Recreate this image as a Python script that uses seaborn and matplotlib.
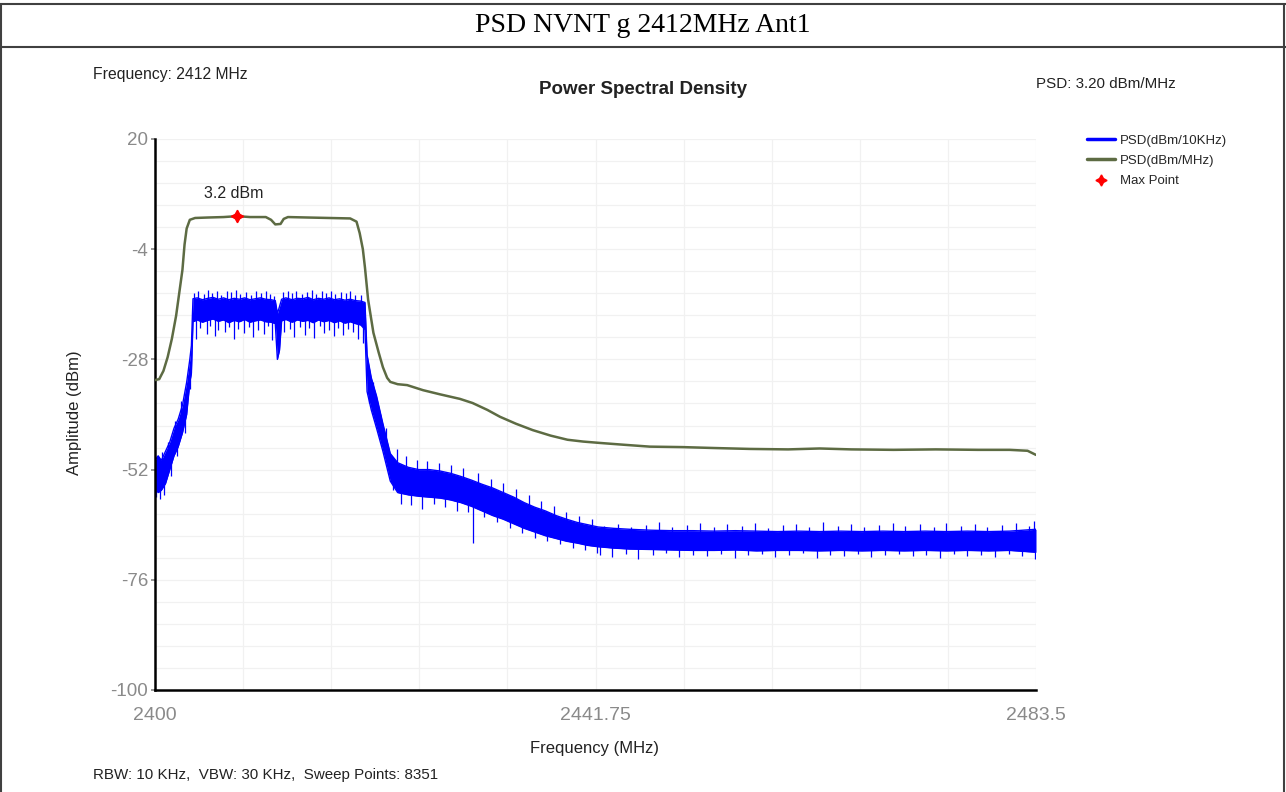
import matplotlib
matplotlib.use('Agg')
import matplotlib.pyplot as plt
from matplotlib.lines import Line2D
import seaborn as sns
import numpy as np

# PSD (dBm/MHz) trace
green_freq = [2400.0, 2400.4, 2400.8, 2401.2, 2401.6, 2402.0, 2402.3, 2402.6, 2402.8, 2403.0,
              2403.3, 2403.8, 2405.0, 2406.5, 2407.8, 2409.0, 2410.5, 2411.0, 2411.4, 2411.9,
              2412.2, 2412.6, 2414.5, 2416.5, 2418.5, 2419.1, 2419.4, 2419.7, 2419.9, 2420.2,
              2420.7, 2421.2, 2421.6, 2422.0, 2422.3, 2423.0, 2423.9, 2425.4, 2427.0, 2428.9,
              2430.1, 2431.5, 2432.7, 2434.2, 2435.8, 2437.5, 2439.1, 2440.6, 2442.2, 2444.5,
              2446.9, 2450.0, 2453.0, 2456.4, 2460.0, 2463.0, 2466.0, 2470.0, 2474.0, 2478.0,
              2481.0, 2482.7, 2483.5]
green_psd = [-32.5, -32.3, -30.5, -27.5, -23.5, -18.5, -13.5, -8.5, -3.0, 0.5,
             2.4, 2.8, 2.9, 3.0, 3.2, 3.0, 3.0, 2.4, 1.4, 1.5,
             2.6, 3.0, 2.9, 2.8, 2.7, 2.0, -0.5, -4.0, -8.0, -15.0,
             -22.2, -26.5, -29.7, -32.0, -32.9, -33.4, -33.6, -34.7, -35.6, -36.6,
             -37.5, -39.0, -40.5, -42.0, -43.4, -44.6, -45.5, -45.9, -46.2, -46.6,
             -47.0, -47.1, -47.3, -47.5, -47.6, -47.4, -47.6, -47.7, -47.6, -47.7,
             -47.7, -47.9, -48.8]

# PSD (dBm/10KHz) trace: upper and lower edge of the dense noisy band
blue_freq = [2400.0, 2400.3, 2400.6, 2401.0, 2401.4, 2401.8, 2402.2, 2402.6, 2403.0, 2403.3,
             2403.45, 2403.6, 2404.0, 2404.5, 2405.0, 2405.5, 2406.0, 2406.5, 2407.0, 2407.5,
             2408.0, 2408.5, 2409.0, 2409.5, 2410.0, 2410.5, 2411.0, 2411.4, 2411.6, 2411.8,
             2412.0, 2412.4, 2413.0, 2413.5, 2414.0, 2414.5, 2415.0, 2415.5, 2416.0, 2416.5,
             2417.0, 2417.5, 2418.0, 2418.5, 2419.0, 2419.5, 2419.9, 2420.1, 2420.5, 2421.0,
             2421.6, 2422.3, 2423.0, 2424.0, 2425.0, 2426.0, 2427.0, 2428.0, 2429.0, 2430.0,
             2431.0, 2432.0, 2433.0, 2434.0, 2435.0, 2436.0, 2437.0, 2438.0, 2439.0, 2440.0,
             2441.0, 2442.0, 2443.5, 2445.0, 2447.0, 2449.0, 2451.0, 2453.0, 2455.0, 2457.0,
             2459.0, 2461.0, 2463.0, 2465.0, 2467.0, 2469.0, 2471.0, 2473.0, 2475.0, 2477.0,
             2479.0, 2481.0, 2483.5]
blue_hi = [-50.0, -49.0, -50.0, -48.0, -46.0, -43.0, -41.0, -38.0, -33.0, -28.0,
           -25.0, -14.8, -14.6, -15.0, -14.7, -14.5, -14.9, -14.6, -15.0, -14.7,
           -14.9, -14.6, -15.0, -14.8, -14.6, -14.9, -15.0, -15.2, -18.0, -16.5,
           -14.9, -14.6, -15.0, -14.7, -14.8, -14.5, -15.0, -14.7, -14.9, -14.6,
           -15.0, -14.8, -15.1, -14.9, -15.2, -15.3, -15.6, -27.0, -32.0, -36.0,
           -42.0, -48.5, -50.5, -51.5, -52.0, -52.0, -52.3, -52.8, -53.5, -54.3,
           -55.2, -56.0, -57.0, -58.0, -59.2, -60.2, -61.0, -62.0, -62.8, -63.5,
           -64.0, -64.5, -64.8, -65.0, -65.2, -65.3, -65.3, -65.4, -65.3, -65.4,
           -65.5, -65.4, -65.5, -65.4, -65.5, -65.4, -65.5, -65.4, -65.5, -65.4,
           -65.5, -65.4, -65.0]
blue_lo = [-56.0, -57.0, -56.5, -55.0, -52.0, -49.0, -47.0, -44.0, -40.0, -33.0,
           -31.0, -19.8, -19.4, -19.9, -19.5, -19.2, -19.7, -19.4, -20.0, -19.5,
           -19.8, -19.3, -19.9, -19.6, -19.4, -19.8, -19.9, -20.2, -28.0, -26.0,
           -19.6, -19.3, -19.9, -19.4, -19.7, -19.5, -20.0, -19.4, -19.8, -19.5,
           -20.0, -19.6, -20.1, -19.8, -20.2, -20.5, -21.5, -35.0, -39.0, -43.0,
           -48.0, -54.5, -57.0, -57.5, -57.8, -58.0, -58.2, -58.6, -59.2, -60.0,
           -61.0, -62.0, -62.8, -63.8, -64.8, -65.6, -66.4, -67.0, -67.6, -68.0,
           -68.5, -68.8, -69.1, -69.3, -69.4, -69.5, -69.6, -69.6, -69.5, -69.7,
           -69.6, -69.6, -69.7, -69.6, -69.7, -69.6, -69.7, -69.6, -69.7, -69.6,
           -69.7, -69.6, -70.0]

# single spikes out of the in-band part (up from -16, down from -18.5)
band_up_freq = [2403.7, 2404.1, 2404.6, 2405.0, 2405.4, 2405.9, 2406.3, 2406.8, 2407.2, 2407.7,
                2408.1, 2408.6, 2409.1, 2409.6, 2410.0, 2410.5, 2410.9, 2411.3, 2412.1, 2412.6,
                2413.0, 2413.4, 2413.9, 2414.4, 2414.9, 2415.3, 2415.8, 2416.2, 2416.7, 2417.1,
                2417.6, 2418.1, 2418.5, 2419.0, 2419.5]
band_up_tip = [-13.5, -13.0, -13.8, -12.9, -13.6, -13.2, -13.9, -13.1, -13.4, -12.8,
               -13.7, -13.3, -13.9, -13.0, -13.5, -13.2, -13.8, -14.2, -13.4, -13.0,
               -13.6, -13.1, -13.8, -13.3, -12.9, -13.7, -13.2, -13.5, -13.0, -13.8,
               -13.3, -13.6, -13.1, -13.9, -14.0]
band_dn_freq = [2403.9, 2404.3, 2404.9, 2405.2, 2405.7, 2406.0, 2406.6, 2407.0, 2407.5, 2407.9,
                2408.4, 2408.9, 2409.3, 2409.8, 2410.3, 2410.7, 2411.1, 2412.2, 2412.8, 2413.2,
                2413.7, 2414.2, 2414.6, 2415.1, 2415.6, 2416.0, 2416.5, 2417.0, 2417.3, 2417.8,
                2418.3, 2418.8, 2419.2, 2419.7]
band_dn_tip = [-23.5, -21.2, -22.4, -20.8, -23.0, -21.5, -22.0, -20.9, -23.6, -21.3,
               -22.2, -21.0, -23.1, -21.6, -22.5, -20.7, -23.8, -22.0, -21.4, -23.2,
               -21.0, -22.6, -21.2, -23.4, -20.8, -22.3, -21.5, -23.0, -21.1, -22.7,
               -21.3, -22.1, -23.5, -24.5]

# spikes on the skirts (start and end level)
skirt_freq = [2400.1, 2400.2, 2400.45, 2400.7, 2400.9, 2401.2, 2401.5, 2401.9, 2402.1, 2402.5,
              2402.8, 2403.1, 2403.35, 2420.3, 2420.7, 2421.3, 2421.9, 2422.6, 2422.9, 2423.3,
              2423.8, 2424.3, 2424.8, 2425.3, 2425.8, 2426.4, 2426.9, 2427.5, 2428.1, 2428.6,
              2429.2, 2429.7, 2430.1, 2430.6, 2431.2, 2431.8, 2432.4, 2433.0, 2433.6, 2434.2,
              2434.8, 2435.4, 2436.0, 2436.6, 2437.2, 2437.8, 2438.4, 2439.0, 2439.6, 2440.2,
              2440.8, 2441.4, 2441.9]
skirt_from = [-53.0, -53.0, -54.0, -52.0, -52.0, -49.0, -49.0, -45.0, -45.0, -40.0,
              -40.0, -35.0, -30.0, -33.0, -36.0, -40.0, -46.0, -52.0, -53.0, -54.0,
              -54.0, -55.0, -55.0, -55.0, -55.0, -55.0, -55.0, -56.0, -56.0, -56.0,
              -57.0, -57.0, -57.0, -58.0, -58.0, -59.0, -59.0, -60.0, -61.0, -61.0,
              -62.0, -62.0, -63.0, -63.0, -64.0, -64.0, -65.0, -65.0, -66.0, -66.0,
              -66.0, -66.0, -67.0]
skirt_to = [-58.0, -49.0, -58.5, -48.2, -57.5, -46.0, -53.5, -41.5, -49.0, -37.0,
            -44.0, -31.5, -34.5, -37.5, -33.0, -45.0, -43.0, -56.5, -47.5, -59.5,
            -49.0, -59.8, -50.0, -60.5, -50.2, -59.6, -50.5, -60.2, -51.0, -61.0,
            -51.6, -61.2, -68.0, -52.8, -62.3, -54.0, -63.5, -55.0, -64.8, -56.2,
            -65.8, -57.5, -67.0, -58.8, -67.5, -60.0, -68.3, -61.2, -69.0, -62.0,
            -69.6, -62.8, -70.1]

# spikes on the noise floor (up from -66.5, down from -68.5)
floor_up_freq = [2442.6, 2443.9, 2445.1, 2446.5, 2447.8, 2449.0, 2450.4, 2451.7, 2453.0, 2454.2,
                 2455.6, 2456.9, 2458.1, 2459.5, 2460.8, 2462.0, 2463.3, 2464.7, 2466.0, 2467.2,
                 2468.6, 2469.9, 2471.1, 2472.5, 2473.8, 2475.0, 2476.4, 2477.7, 2478.9, 2480.3,
                 2481.6, 2482.8, 2483.3]
floor_up_tip = [-64.2, -63.8, -64.6, -64.0, -63.5, -64.4, -64.1, -63.7, -64.5, -63.9,
                -64.3, -63.6, -64.7, -64.0, -63.8, -64.4, -63.5, -64.2, -63.9, -64.6,
                -64.1, -63.7, -64.3, -63.8, -64.5, -63.6, -64.2, -63.9, -64.4, -64.0,
                -63.7, -64.3, -63.3]
floor_dn_freq = [2442.2, 2443.3, 2444.6, 2445.8, 2447.2, 2448.4, 2449.7, 2451.0, 2452.3, 2453.6,
                 2455.0, 2456.2, 2457.5, 2458.8, 2460.1, 2461.4, 2462.7, 2464.0, 2465.3, 2466.6,
                 2467.9, 2469.2, 2470.5, 2471.8, 2473.1, 2474.4, 2475.7, 2477.0, 2478.3, 2479.6,
                 2480.9, 2482.2, 2483.4]
floor_dn_tip = [-70.6, -71.0, -70.3, -71.4, -70.7, -70.2, -71.1, -70.5, -70.9, -70.3,
                -71.2, -70.6, -70.4, -71.0, -70.7, -70.2, -71.3, -70.5, -70.8, -70.4,
                -71.1, -70.6, -70.3, -70.9, -70.5, -71.2, -70.4, -70.8, -70.6, -71.0,
                -70.3, -70.9, -71.4]

max_freq = 2407.8
max_psd = 3.2

x_ticks = [2400, 2441.75, 2483.5]
x_tick_labels = ['2400', '2441.75', '2483.5']
y_ticks = [20, -4, -28, -52, -76, -100]

sns.set_theme(style='white')
plt.rcParams['font.family'] = ['Liberation Sans', 'DejaVu Sans']
plt.rcParams['axes.unicode_minus'] = False

W, H = 1286, 792
fig = plt.figure(figsize=(W / 100, H / 100), dpi=100)
ax = fig.add_axes([155 / W, 1 - 690 / H, (1036 - 155) / W, (690 - 139) / H])

blue = '#0000ff'
green = '#5d6b43'
text_col = '#222222'

# very light grid: 10 vertical, 25 horizontal divisions
for gx in np.linspace(2400, 2483.5, 11):
    ax.axvline(gx, color='#f1f1f1', lw=0.9, zorder=0)
for gy in np.linspace(-100, 20, 26):
    ax.axhline(gy, color='#f1f1f1', lw=0.9, zorder=0)

ax.fill_between(blue_freq, blue_lo, blue_hi, color=blue, lw=0, zorder=2)
sns.lineplot(x=blue_freq, y=blue_hi, color=blue, lw=1.0, ax=ax, zorder=2)
sns.lineplot(x=blue_freq, y=blue_lo, color=blue, lw=1.0, ax=ax, zorder=2)
ax.vlines(band_up_freq, -16.0, band_up_tip, color=blue, lw=0.9, zorder=2)
ax.vlines(band_dn_freq, -18.5, band_dn_tip, color=blue, lw=0.9, zorder=2)
ax.vlines(skirt_freq, skirt_from, skirt_to, color=blue, lw=0.9, zorder=2)
ax.vlines(floor_up_freq, -66.5, floor_up_tip, color=blue, lw=0.9, zorder=2)
ax.vlines(floor_dn_freq, -68.5, floor_dn_tip, color=blue, lw=0.9, zorder=2)

sns.lineplot(x=green_freq, y=green_psd, color=green, lw=1.8, ax=ax, zorder=3)
ax.plot([max_freq], [max_psd], marker=(4, 1, 0), color='#ff0000', ms=9, zorder=4)
ax.text(max_freq - 0.3, max_psd + 3.2, f'{max_psd} dBm', ha='center', va='bottom',
        fontsize=11.5, color=text_col)

ax.set_xlim(2400, 2483.5)
ax.set_ylim(-100, 20)
ax.set_xticks(x_ticks)
ax.set_xticklabels(x_tick_labels)
ax.set_yticks(y_ticks)
ax.tick_params(axis='x', labelsize=14, colors='#8a8a8a', pad=12, length=0)
ax.tick_params(axis='y', labelsize=13.5, colors='#8a8a8a', pad=2, length=3, left=True)
for side in ['top', 'right']:
    ax.spines[side].set_visible(False)
for side in ['left', 'bottom']:
    ax.spines[side].set_color('black')
    ax.spines[side].set_linewidth(1.8)
ax.set_xlabel('')
ax.set_ylabel('')

fig.text(75 / W, 1 - 413 / H, 'Amplitude (dBm)', rotation=90, ha='center', va='center',
         fontsize=12, color=text_col)
fig.text(595 / W, 1 - 749 / H, 'Frequency (MHz)', ha='center', va='center',
         fontsize=12, color=text_col)
fig.text(93 / W, 1 - 775 / H, 'RBW: 10 KHz,  VBW: 30 KHz,  Sweep Points: 8351',
         ha='left', va='center', fontsize=10.9, color=text_col)
fig.text(93 / W, 1 - 75 / H, 'Frequency: 2412 MHz', ha='left', va='center',
         fontsize=11.3, color=text_col)
fig.text(643 / W, 1 - 89 / H, 'Power Spectral Density', ha='center', va='center',
         fontsize=13.5, fontweight='bold', color=text_col)
fig.text(1176 / W, 1 - 84 / H, 'PSD: 3.20 dBm/MHz', ha='right', va='center',
         fontsize=10.9, color=text_col)

# page title with table frame
fig.text(643 / W, 1 - 26 / H, 'PSD NVNT g 2412MHz Ant1', ha='center', va='center',
         fontsize=20, family=['Liberation Serif', 'DejaVu Serif'], color='black')
for y in [4, 47]:
    fig.add_artist(Line2D([0, 1], [1 - y / H, 1 - y / H], color='#404040', lw=1.5))
for x in [1, 1284]:
    fig.add_artist(Line2D([x / W, x / W], [0, 1 - 4 / H], color='#404040', lw=1.5))

handles = [Line2D([], [], color=blue, lw=2.5),
           Line2D([], [], color=green, lw=2.5),
           Line2D([], [], color='#ff0000', lw=0, marker=(4, 1, 0), ms=8)]
fig.legend(handles, ['PSD(dBm/10KHz)', 'PSD(dBm/MHz)', 'Max Point'],
           loc='upper left', bbox_to_anchor=(1082 / W, 1 - 129 / H), frameon=False,
           fontsize=9.5, handlelength=2.1, handletextpad=0.4, labelspacing=0.62,
           borderaxespad=0)

fig.savefig('out.png', dpi=100)
